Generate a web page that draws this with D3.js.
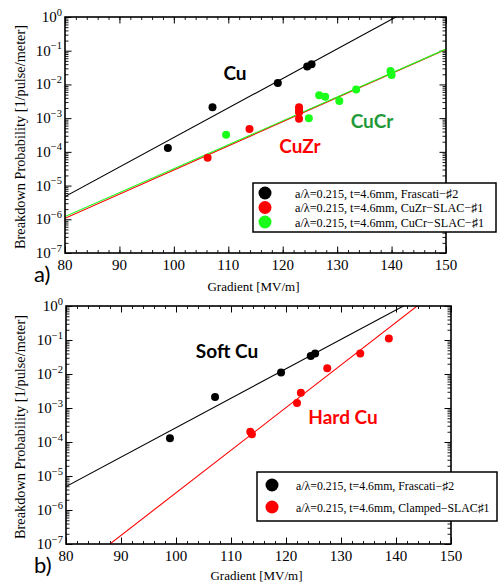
<!DOCTYPE html>
<html>
<head>
<meta charset="utf-8">
<script src="https://cdn.jsdelivr.net/npm/d3@7"></script>
<style>
  body { margin: 0; background: #fff; }
  .tick text { display: none; }
  .domain { stroke: none; }
</style>
</head>
<body>
<script>
// ---- data ----
var xTicks = [80, 90, 100, 110, 120, 130, 140, 150];
var yExponents = [0, -1, -2, -3, -4, -5, -6, -7];

// Frascati #2 (soft Cu), same in both panels
var cuGrad = [98.9, 107.1, 119.1, 124.5, 125.3];
var cuProb = [1.3e-4, 2.1e-3, 1.1e-2, 3.4e-2, 4.0e-2];

// CuZr SLAC #1
var cuzrGrad = [106.2, 113.9, 123.0, 123.0, 123.0, 123.0];
var cuzrProb = [6.7e-5, 4.8e-4, 2.1e-3, 1.7e-3, 1.5e-3, 9.6e-4];

// CuCr SLAC #1
var cucrGrad = [109.6, 124.8, 126.7, 127.8, 130.4, 133.5, 139.8, 139.9, 140.0];
var cucrProb = [3.2e-4, 1.0e-3, 4.8e-3, 4.3e-3, 3.2e-3, 7.1e-3, 2.5e-2, 2.2e-2, 1.9e-2];

// Clamped SLAC #1 (hard Cu)
var hardGrad = [113.5, 113.8, 122.0, 122.7, 127.5, 133.5, 138.7];
var hardProb = [2.0e-4, 1.7e-4, 1.4e-3, 2.8e-3, 1.47e-2, 4.0e-2, 1.1e-1];

// fit lines, given by their values at 80 and 150 MV/m
var fitGrad = [80, 150];
var fitCuA = [4.7e-6, 6.4];
var fitCuZr = [1.07e-6, 0.11];
var fitCuCr = [1.2e-6, 0.112];
var fitCuB = [4.9e-6, 5.6];
var fitHard = [1.0e-8, 5.9];

var legendA = ["a/\u03bb=0.215, t=4.6mm, Frascati\u2212\u266f2",
               "a/\u03bb=0.215, t=4.6mm, CuZr\u2212SLAC\u2212\u266f1",
               "a/\u03bb=0.215, t=4.6mm, CuCr\u2212SLAC\u2212\u266f1"];
var legendB = ["a/\u03bb=0.215, t=4.6mm, Frascati\u2212\u266f2",
               "a/\u03bb=0.215, t=4.6mm, Clamped\u2212SLAC\u266f1"];

var BLACK = "#000", RED = "#ff0000", GREEN = "#1aff1a";

function zip(a, b) { return a.map((d, i) => [d, b[i]]); }

var svg = d3.select("body").append("svg")
  .attr("width", 499)
  .attr("height", 583);

// draws one panel
function panel(opt) {
  var x = d3.scaleLinear().domain([80, 150]).range([opt.left, opt.right]);
  var y = d3.scaleLog().domain([1e-7, 1]).range([opt.bottom, opt.top]);

  var g = svg.append("g");

  g.append("clipPath").attr("id", opt.id)
    .append("rect")
    .attr("x", opt.left).attr("y", opt.top)
    .attr("width", opt.right - opt.left).attr("height", opt.bottom - opt.top);

  // tick marks (inward) on all four sides
  var xMinor = d3.range(80, 151, 2);
  var yMinor = [];
  yExponents.slice(1).forEach(function(e) {
    for (var k = 2; k < 10; k++) yMinor.push(k * Math.pow(10, e));
  });
  var yMajor = yExponents.map(e => Math.pow(10, e));

  var axes = [
    [d3.axisBottom(x), "translate(0," + opt.bottom + ")", xMinor, xTicks, -3, -6.5],
    [d3.axisTop(x), "translate(0," + opt.top + ")", xMinor, xTicks, -3, -6.5],
    [d3.axisLeft(y), "translate(" + opt.left + ",0)", yMinor, yMajor, -3.5, -6.5],
    [d3.axisRight(y), "translate(" + opt.right + ",0)", yMinor, yMajor, -3.5, -6.5]
  ];
  axes.forEach(function(a) {
    g.append("g").attr("transform", a[1])
      .call(a[0].tickValues(a[2]).tickSize(a[4]).tickFormat(""))
      .selectAll("line").attr("stroke", "#000").attr("stroke-width", 0.9);
    g.append("g").attr("transform", a[1])
      .call(a[0].tickValues(a[3]).tickSize(a[5]).tickFormat(""))
      .selectAll("line").attr("stroke", "#000").attr("stroke-width", 1);
  });

  // fit lines
  var line = d3.line().x(d => x(d[0])).y(d => y(d[1]));
  var lines = g.append("g").attr("clip-path", "url(#" + opt.id + ")");
  opt.fits.forEach(function(f) {
    lines.append("path")
      .attr("d", line(zip(fitGrad, f.vals)))
      .attr("fill", "none")
      .attr("stroke", f.color)
      .attr("stroke-width", 1.1);
  });

  // data points
  opt.series.forEach(function(s) {
    g.selectAll(null)
      .data(zip(s.x, s.y))
      .enter().append("circle")
      .attr("cx", d => x(d[0]))
      .attr("cy", d => y(d[1]))
      .attr("r", 4)
      .attr("fill", s.color);
  });

  // frame
  g.append("rect")
    .attr("x", opt.left).attr("y", opt.top)
    .attr("width", opt.right - opt.left).attr("height", opt.bottom - opt.top)
    .attr("fill", "none").attr("stroke", "#000").attr("stroke-width", 1.6);

  // x tick labels
  g.selectAll(null).data(xTicks).enter().append("text")
    .attr("x", d => x(d))
    .attr("y", opt.bottom + 17)
    .attr("text-anchor", "middle")
    .style("font-family", "Liberation Serif, serif")
    .style("font-size", "15px")
    .text(d => d);

  // y tick labels 10^n
  var yl = g.selectAll(null).data(yExponents).enter().append("text")
    .attr("x", opt.left - 3)
    .attr("y", d => y(Math.pow(10, d)) + 5)
    .attr("text-anchor", "end")
    .style("font-family", "Liberation Serif, serif")
    .style("font-size", "15px");
  yl.append("tspan").text("10");
  yl.append("tspan")
    .attr("dy", -6.5)
    .style("font-size", "10.5px")
    .text(d => d === 0 ? "0" : "\u2212" + (-d));

  // axis titles
  g.append("text")
    .attr("x", (opt.left + opt.right) / 2 - 2)
    .attr("y", opt.xTitleY)
    .attr("text-anchor", "middle")
    .style("font-family", "Liberation Serif, serif")
    .style("font-size", "13px")
    .text("Gradient [MV/m]");

  g.append("text")
    .attr("transform", "translate(25," + ((opt.top + opt.bottom) / 2 + 2) + ") rotate(-90)")
    .attr("text-anchor", "middle")
    .attr("textLength", 224)
    .attr("lengthAdjust", "spacingAndGlyphs")
    .style("font-family", "Liberation Serif, serif")
    .style("font-size", "15px")
    .text("Breakdown Probability [1/pulse/meter]");

  // panel letter
  g.append("text")
    .attr("x", 34).attr("y", opt.letterY)
    .style("font-family", "Lato, sans-serif")
    .style("font-size", "22px")
    .text(opt.letter);

  // annotations
  opt.notes.forEach(function(n) {
    g.append("text")
      .attr("x", n.x).attr("y", n.y)
      .attr("text-anchor", "middle")
      .attr("fill", n.color)
      .style("font-family", "Lato, sans-serif")
      .style("font-weight", "bold")
      .style("font-size", "19px")
      .text(n.text);
  });

  // legend
  var L = opt.legend;
  var lg = g.append("g");
  lg.append("rect")
    .attr("x", L.x).attr("y", L.y).attr("width", L.w).attr("height", L.h)
    .attr("fill", "#fff").attr("stroke", "#000").attr("stroke-width", 1.5);
  L.labels.forEach(function(t, i) {
    lg.append("circle")
      .attr("cx", L.x + L.dotDx).attr("cy", L.y + L.first + i * L.step)
      .attr("r", 6.5).attr("fill", L.colors[i]);
    lg.append("text")
      .attr("x", L.x + L.textDx).attr("y", L.y + L.first + i * L.step + 4.5)
      .style("font-family", "Liberation Serif, serif")
      .style("font-size", L.fontSize + "px")
      .text(t);
  });
}

panel({
  id: "clipA", left: 65, right: 446, top: 17, bottom: 253,
  xTitleY: 291, letter: "a)", letterY: 282,
  fits: [
    { vals: fitCuA, color: BLACK },
    { vals: fitCuZr, color: RED },
    { vals: fitCuCr, color: GREEN }
  ],
  series: [
    { x: cuGrad, y: cuProb, color: BLACK },
    { x: cuzrGrad, y: cuzrProb, color: RED },
    { x: cucrGrad, y: cucrProb, color: GREEN }
  ],
  notes: [
    { text: "Cu", x: 235, y: 80, color: "#000" },
    { text: "CuZr", x: 300, y: 153, color: "#ff0000" },
    { text: "CuCr", x: 372, y: 128, color: "#1f9a3a" }
  ],
  legend: { x: 253, y: 183, w: 243, h: 49, first: 10, step: 14.5, dotDx: 12, textDx: 42,
            fontSize: 12.2, labels: legendA, colors: [BLACK, RED, GREEN] }
});

panel({
  id: "clipB", left: 66, right: 451, top: 306, bottom: 544,
  xTitleY: 580, letter: "b)", letterY: 573,
  fits: [
    { vals: fitCuB, color: BLACK },
    { vals: fitHard, color: RED }
  ],
  series: [
    { x: cuGrad, y: cuProb, color: BLACK },
    { x: hardGrad, y: hardProb, color: RED }
  ],
  notes: [
    { text: "Soft Cu", x: 227, y: 358, color: "#000" },
    { text: "Hard Cu", x: 343, y: 424, color: "#ff0000" }
  ],
  legend: { x: 257, y: 472, w: 240, h: 49, first: 13, step: 22, dotDx: 15, textDx: 39,
            fontSize: 11.8, labels: legendB, colors: [BLACK, RED] }
});
</script>
</body>
</html>
